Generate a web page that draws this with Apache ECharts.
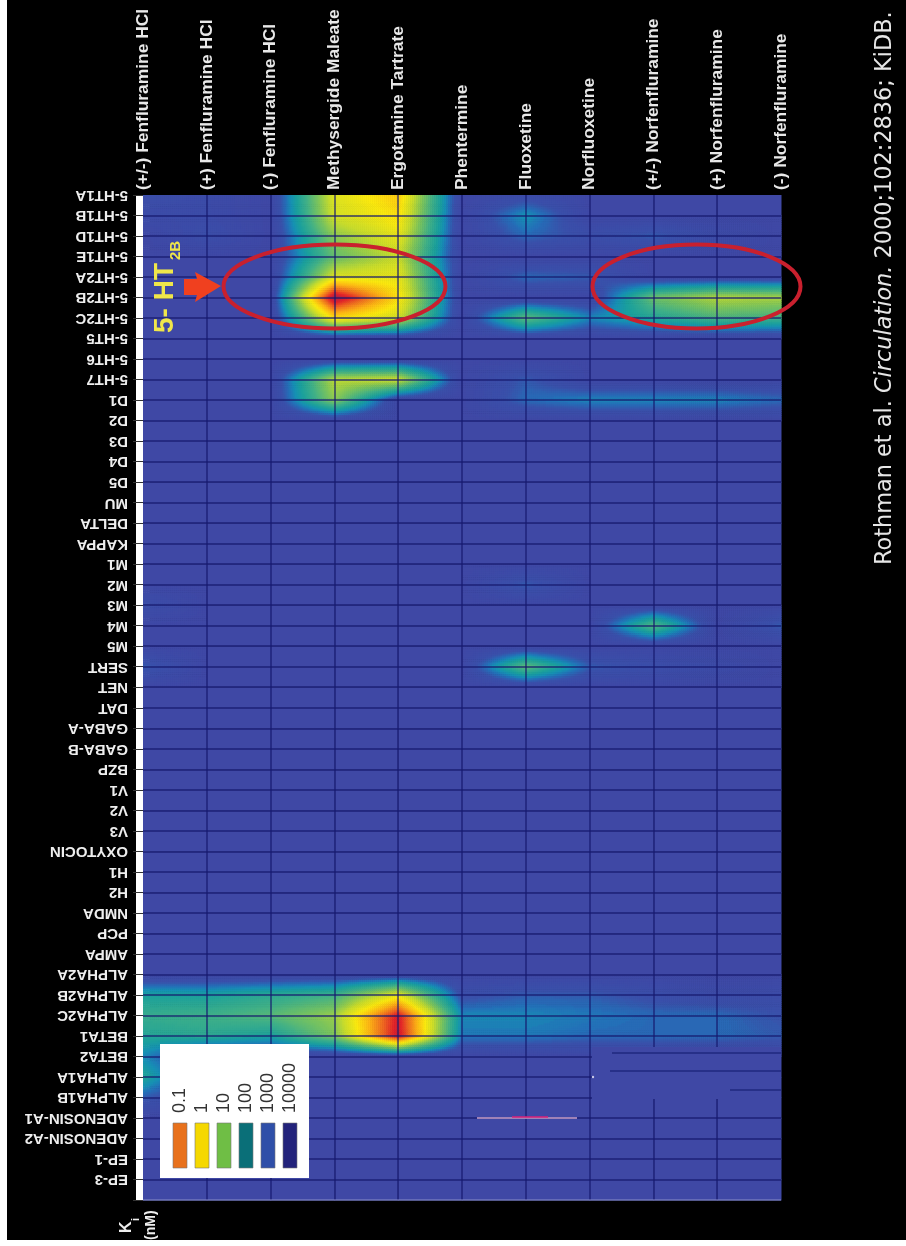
<!DOCTYPE html>
<html><head><meta charset="utf-8">
<style>html,body{margin:0;padding:0;background:#fff}#c{width:906px;height:1246px}</style>
<script src="https://cdn.jsdelivr.net/npm/echarts@6/dist/echarts.min.js"></script>
</head><body><div id="c"></div>
<script>
const drugs = ["(+/-) Fenfluramine HCl","(+) Fenfluramine HCl","(-) Fenfluramine HCl","Methysergide Maleate","Ergotamine Tartrate","Phentermine","Fluoxetine","Norfluoxetine","(+/-) Norfenfluramine","(+) Norfenfluramine","(-) Norfenfluramine"];
const receptors = ["5-HT1A","5-HT1B","5-HT1D","5-HT1E","5-HT2A","5-HT2B","5-HT2C","5-HT5","5-HT6","5-HT7","D1","D2","D3","D4","D5","MU","DELTA","KAPPA","M1","M2","M3","M4","M5","SERT","NET","DAT","GABA-A","GABA-B","BZP","V1","V2","V3","OXYTOCIN","H1","H2","NMDA","PCP","AMPA","ALPHA2A","ALPHA2B","ALPHA2C","BETA1","BETA2","ALPHA1A","ALPHA1B","ADENOSIN-A1","ADENOSIN-A2","EP-1","EP-3"];
// Ki (nM); rows in receptor order. 1000 = background level.
const fenRac = [500,630,1000,1000,1000,1000,1000,1000,1000,1000, 1000,1000,1000,1000,1000,1000,1000,1000,1000,1000, 500,1000,1000,320,1000,1000,1000,1000,1000,1000, 1000,1000,1000,1000,1000,1000,1000,1000,1000,80, 40,63,160,63,320,1000,1000,1000,1000];
const fenPlus = [630,630,500,1000,1000,1000,1000,1000,1000,1000, 1000,1000,1000,1000,1000,1000,1000,1000,1000,1000, 1000,1000,1000,1000,1000,1000,1000,1000,1000,1000, 1000,1000,1000,1000,1000,1000,1000,1000,1000,80, 32,50,1000,1000,1000,1000,1000,1000,1000];
const fenMinus = [1000,1000,1000,1000,1000,1000,1000,1000,1000,1000, 1000,1000,1000,1000,1000,1000,1000,1000,1000,1000, 1000,1000,1000,1000,1000,1000,1000,1000,1000,1000, 1000,1000,1000,1000,1000,1000,1000,1000,1000,50, 20,80,1000,1000,1000,1000,1000,1000,1000];
const methysergide = [2,2.5,8,16,2,0.01,0.8,1000,1000,4, 8,1000,1000,1000,1000,1000,1000,1000,1000,1000, 1000,1000,1000,1000,1000,1000,1000,1000,1000,1000, 1000,1000,1000,1000,1000,1000,1000,1000,1000,32, 6.3,10,1000,1000,1000,1000,1000,1000,1000];
const ergotamine = [0.5,0.8,1.5,3,1.5,0.8,2.5,1000,1000,2.5, 1000,1000,1000,1000,1000,1000,1000,1000,1000,1000, 1000,1000,1000,1000,1000,1000,1000,1000,1000,1000, 1000,1000,1000,1000,1000,1000,1000,1000,1000,1.6, 0.025,0.02,1000,1000,1000,1000,1000,1000,1000];
const phentermine = [1000,1000,1000,1000,1000,1000,1000,1000,1000,1000, 1000,1000,1000,1000,1000,1000,1000,1000,1000,1000, 1000,1000,1000,1000,1000,1000,1000,1000,1000,1000, 1000,1000,1000,1000,1000,1000,1000,1000,1000,500, 160,200,1000,1000,1000,1000,1000,1000,1000];
const fluoxetine = [630,125,250,1000,250,1000,16,1000,1000,320, 250,1000,1000,1000,1000,1000,1000,1000,1000,320, 1000,1000,1000,16,1000,1000,1000,1000,1000,1000, 1000,1000,1000,1000,1000,1000,1000,1000,1000,320, 160,200,1000,1000,1000,1000,1000,1000,1000];
const norfluoxetine = [1000,1000,500,1000,320,1000,160,1000,1000,1000, 160,1000,1000,1000,1000,1000,1000,1000,1000,1000, 1000,1000,1000,320,1000,1000,1000,1000,1000,1000, 1000,1000,1000,1000,1000,1000,1000,1000,1000,320, 200,250,1000,1000,1000,1000,1000,1000,1000];
const norfenRac = [1000,1000,320,1000,1000,13,63,1000,1000,1000, 160,1000,1000,1000,1000,1000,1000,1000,1000,1000, 1000,20,1000,500,1000,1000,1000,1000,1000,1000, 1000,1000,1000,1000,1000,1000,1000,1000,1000,500, 250,250,1000,1000,1000,1000,1000,1000,1000];
const norfenPlus = [1000,1000,630,1000,1000,4,25,1000,1000,1000, 160,1000,1000,1000,1000,1000,1000,1000,1000,1000, 1000,1000,1000,630,1000,1000,1000,1000,1000,1000, 1000,1000,1000,1000,1000,1000,1000,1000,1000,630, 250,250,1000,1000,1000,1000,1000,1000,1000];
const norfenMinus = [1000,1000,1000,1000,1000,5,32,1000,1000,1000, 250,1000,1000,1000,1000,1000,1000,1000,1000,1000, 1000,320,1000,1000,1000,1000,1000,1000,1000,1000, 1000,1000,1000,1000,1000,1000,1000,1000,1000,630, 400,320,1000,1000,1000,1000,1000,1000,1000];
const kiByDrug = [fenRac,fenPlus,fenMinus,methysergide,ergotamine,phentermine,fluoxetine,norfluoxetine,norfenRac,norfenPlus,norfenMinus];
const legendLabels = ["0.1","1","10","100","1000","10000"];
const legendColors = ["#e8711c","#f5d800","#6fbe45","#0a6f78","#2f4fa8","#23237b"];
const rampStops = [[3,"#3f48a5"],[2.6,"#3a50aa"],[2.35,"#2470b8"],[2.15,"#1690b4"],[1.9,"#1ba09c"],[1.5,"#40b088"],[1,"#7cc45c"],[0.5,"#c8dc2c"],[0,"#fbe90f"],[-0.5,"#fdb515"],[-1,"#f07020"],[-1.5,"#e3222a"],[-2,"#9c1f50"]];

const rgb = h => [1,3,5].map(i => parseInt(h.substr(i,2),16));
const cache = {};
function colorOf(logKi){
  const k = Math.round(logKi*50);
  if(cache[k]) return cache[k];
  let c = rgb(rampStops[rampStops.length-1][1]);
  if(logKi >= rampStops[0][0]) c = rgb(rampStops[0][1]);
  else for(let i=0;i<rampStops.length-1;i++){
    const a=rampStops[i], b=rampStops[i+1];
    if(logKi<=a[0] && logKi>=b[0]){
      const t=(a[0]-logKi)/(a[0]-b[0]), p=rgb(a[1]), q=rgb(b[1]);
      c=p.map((v,n)=>Math.round(v+(q[n]-v)*t)); break;
    }
  }
  return cache[k]=`rgb(${c[0]},${c[1]},${c[2]})`;
}
const rowAxis = receptors.concat([""]);
const kiAt = (c,r) => r < receptors.length ? kiByDrug[c][r] : 1000;
const cells = [];
for(let c=0;c<drugs.length-1;c++) for(let r=0;r<receptors.length;r++)
  cells.push([c,r,kiAt(c,r),kiAt(c+1,r),kiAt(c,r+1),kiAt(c+1,r+1)]);

function renderCell(params, api){
  const c=api.value(0), r=api.value(1);
  const p0=api.coord([c,r]), p1=api.coord([c+1,r+1]);
  const a=Math.log10(api.value(2)), b=Math.log10(api.value(3)), d=Math.log10(api.value(4)), e=Math.log10(api.value(5));
  const w=p1[0]-p0[0], h=p1[1]-p0[1];
  if(a===b&&a===d&&a===e) return {type:'rect',shape:{x:p0[0],y:p0[1],width:w+0.5,height:h+0.5},style:{fill:colorOf(a)}};
  const nx=Math.ceil(w/2), ny=Math.ceil(h/2), kids=[];
  for(let i=0;i<nx;i++) for(let j=0;j<ny;j++){
    const u=(i+.5)/nx, v=(j+.5)/ny;
    const val=(a*(1-u)+b*u)*(1-v)+(d*(1-u)+e*u)*v;
    kids.push({type:'rect',shape:{x:p0[0]+w*i/nx,y:p0[1]+h*j/ny,width:w/nx+0.6,height:h/ny+0.6},style:{fill:colorOf(val)}});
  }
  return {type:'group',children:kids};
}

const FONT='"Liberation Sans",Arial,sans-serif';
const graphics=[
 {type:'rect',z:100,shape:{x:0,y:0,width:7,height:1246},style:{fill:'#fff'}},
 {type:'rect',z:100,shape:{x:0,y:1240,width:906,height:6},style:{fill:'#fff'}},
 {type:'line',z:100,shape:{x1:143,y1:1200,x2:781,y2:1200},style:{stroke:'#8a8ec8',lineWidth:1}},
 // the patched lower-right part of the reference's grid
 {type:'rect',z:100,shape:{x:592,y:1047,width:189,height:52},style:{fill:'#3f48a5'}},
 {type:'line',z:100,shape:{x1:612,y1:1053,x2:781,y2:1053},style:{stroke:'#20287f',lineWidth:1.5}},
 {type:'line',z:100,shape:{x1:610,y1:1071,x2:781,y2:1071},style:{stroke:'#20287f',lineWidth:1.5}},
 {type:'line',z:100,shape:{x1:730,y1:1090,x2:781,y2:1090},style:{stroke:'#20287f',lineWidth:1.5}},
 {type:'line',z:100,shape:{x1:477,y1:1118,x2:577,y2:1118},style:{stroke:'#c9a0c8',lineWidth:1.5}},
 {type:'line',z:100,shape:{x1:512,y1:1117,x2:548,y2:1117},style:{stroke:'#d8207a',lineWidth:1.5}},
 {type:'circle',z:100,shape:{cx:593,cy:1077,r:1.2},style:{fill:'#c8c8e8'}},
 // annotations
 {type:'ellipse',z:100,shape:{cx:334.5,cy:286.5,rx:111,ry:42},style:{fill:'none',stroke:'#c9202e',lineWidth:4}},
 {type:'ellipse',z:100,shape:{cx:696.5,cy:286.5,rx:104,ry:42},style:{fill:'none',stroke:'#c9202e',lineWidth:4}},
 {type:'polygon',z:100,shape:{points:[[184,279],[197,279],[195,272],[221,286],[195,302],[197,295],[184,295]]},style:{fill:'#f0401f'}},
 {type:'text',z:100,x:165,y:333,rotation:Math.PI/2,style:{text:'5- HT',font:'bold 28px '+FONT,fill:'#f0e64a',align:'left',verticalAlign:'middle'}},
 {type:'text',z:100,x:176,y:260,rotation:Math.PI/2,style:{text:'2B',font:'bold 15px '+FONT,fill:'#f0e64a',align:'left',verticalAlign:'middle'}},
 {type:'text',z:100,x:127,y:1233,rotation:Math.PI/2,style:{text:'K',font:'bold 16px '+FONT,fill:'#eee',align:'left',verticalAlign:'middle'}},
 {type:'text',z:100,x:136,y:1221,rotation:Math.PI/2,style:{text:'i',font:'bold 11px '+FONT,fill:'#eee',align:'left',verticalAlign:'middle'}},
 {type:'text',z:100,x:151,y:1240,rotation:Math.PI/2,style:{text:'(nM)',font:'bold 14px '+FONT,fill:'#eee',align:'left',verticalAlign:'middle'}},
 {type:'text',z:100,x:885,y:565,rotation:Math.PI/2,style:{text:'Rothman et al. {i|Circulation.} 2000;102:2836; KiDB.',font:'22.4px "DejaVu Sans"',fill:'#e6e6e6',align:'left',verticalAlign:'middle',rich:{i:{font:'italic 22.4px "DejaVu Sans"',fill:'#e6e6e6'}}}},
 // concentration key
 {type:'rect',z:100,shape:{x:160,y:1044,width:149,height:134},style:{fill:'#fff'}}
];
legendLabels.forEach((t,i)=>{
  graphics.push({type:'rect',z:101,shape:{x:173+22*i,y:1123,width:14,height:45},style:{fill:legendColors[i],stroke:'#777',lineWidth:0.6}});
  graphics.push({type:'text',z:101,x:180+22*i,y:1113,rotation:Math.PI/2,style:{text:t,font:'18px '+FONT,fill:'#333',align:'left',verticalAlign:'middle'}});
});

const chart=echarts.init(document.getElementById('c'),null,{renderer:'canvas'});
chart.setOption({
 animation:false,
 backgroundColor:'#000',
 grid:{left:143,top:195,width:638,height:1005,containLabel:false},
 xAxis:{type:'category',data:drugs,position:'top',boundaryGap:false,z:5,
  axisLine:{show:false},axisTick:{show:false},
  axisLabel:{interval:0,rotate:-90,margin:5,color:'#e8e8e8',fontFamily:FONT,fontWeight:'bold',fontSize:17.4,showMinLabel:true,showMaxLabel:true,hideOverlap:false},
  splitLine:{show:true,interval:i=>i>0&&i<drugs.length-1,lineStyle:{color:'rgba(22,26,110,0.8)',width:1.5}}},
 yAxis:[
  {type:'category',data:rowAxis,inverse:true,boundaryGap:false,position:'left',z:1,
   axisLine:{show:true,lineStyle:{color:'#fff',width:14,cap:'butt'}},
   axisTick:{show:true,interval:0,length:10,lineStyle:{color:'#333',width:1}},
   axisLabel:{interval:0,rotate:180,margin:15,color:'#eee',fontFamily:FONT,fontWeight:'bold',fontSize:15,showMinLabel:true,showMaxLabel:true,hideOverlap:false},
   splitLine:{show:false}},
  {type:'category',data:rowAxis,inverse:true,boundaryGap:false,position:'left',z:5,
   axisLine:{show:false},axisTick:{show:false},axisLabel:{show:false},
   splitLine:{show:true,interval:i=>i>0&&i<rowAxis.length-1,lineStyle:{color:'rgba(22,26,110,0.85)',width:1.5}}}
 ],
 series:[{type:'custom',name:'Ki (nM)',coordinateSystem:'cartesian2d',xAxisIndex:0,yAxisIndex:0,z:2,silent:true,progressive:0,
   encode:{x:0,y:1},data:cells,renderItem:renderCell}],
 graphic:graphics
});
</script></body></html>
